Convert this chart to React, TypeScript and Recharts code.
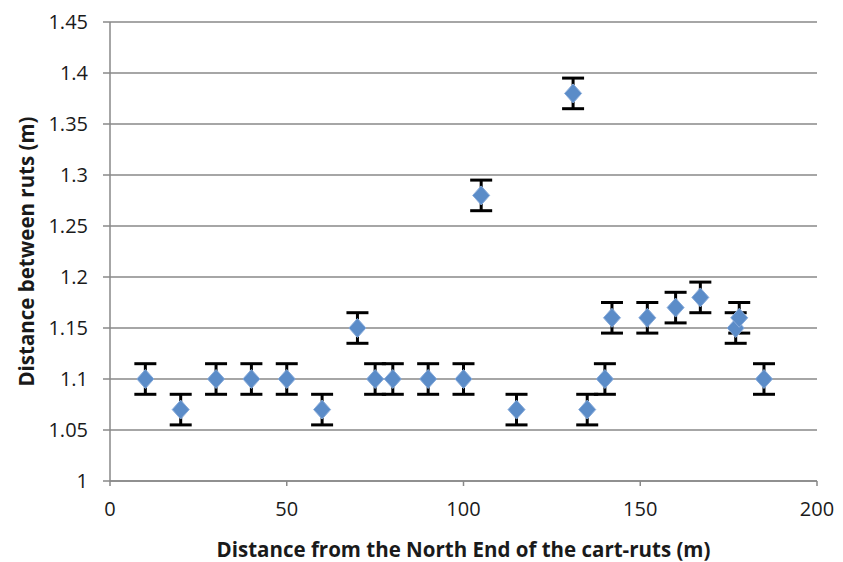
import React from "react";
import { ScatterChart, Scatter, XAxis, YAxis, CartesianGrid, ErrorBar } from "recharts";

const xs = [10, 20, 30, 40, 50, 60, 70, 75, 80, 90, 100, 105, 115, 131, 135, 140, 142, 152, 160, 167, 177, 178, 185];
const ys = [1.1, 1.07, 1.1, 1.1, 1.1, 1.07, 1.15, 1.1, 1.1, 1.1, 1.1, 1.28, 1.07, 1.38, 1.07, 1.1, 1.16, 1.16, 1.17, 1.18, 1.15, 1.16, 1.1];
const errs = [0.015, 0.015, 0.015, 0.015, 0.015, 0.015, 0.015, 0.015, 0.015, 0.015, 0.015, 0.015, 0.015, 0.015, 0.015, 0.015, 0.015, 0.015, 0.015, 0.015, 0.015, 0.015, 0.015];
const xTicks = [0, 50, 100, 150, 200];
const yTicks = [1, 1.05, 1.1, 1.15, 1.2, 1.25, 1.3, 1.35, 1.4, 1.45];

const data = xs.map((x, i) => ({ x, y: ys[i], err: errs[i] }));

const FONT = "'Open Sans', 'Liberation Sans', sans-serif";

const Diamond = (props: any) => {
  const { cx, cy } = props;
  if (cx == null || cy == null) return null;
  const w = 8.5, h = 9.5;
  return (
    <polygon
      points={`${cx},${cy - h} ${cx + w},${cy} ${cx},${cy + h} ${cx - w},${cy}`}
      fill="#5B8CC8"
      stroke="#86AADA"
      strokeWidth={1}
    />
  );
};

export default function App() {
  return (
    <div style={{ background: "#fff", width: 835, height: 554 }}>
      <ScatterChart width={835} height={554} margin={{ top: 14, right: 26, left: 0, bottom: 0 }}>
        <CartesianGrid vertical={false} stroke="#898989" strokeWidth={1.5} />
        <XAxis
          type="number"
          dataKey="x"
          domain={[0, 200]}
          ticks={xTicks}
          height={81}
          stroke="#898989"
          strokeWidth={1.5}
          tickSize={5}
          tickMargin={16}
          tick={{ fill: "#1a1a1a", fontSize: 20, fontFamily: FONT }}
          label={{ value: "Distance from the North End of the cart-ruts (m)", position: "insideBottom", offset: 5, fill: "#1a1a1a", fontSize: 20.5, fontWeight: "bold", fontFamily: FONT }}
        />
        <YAxis
          type="number"
          dataKey="y"
          domain={[1, 1.45]}
          ticks={yTicks}
          width={102}
          stroke="#898989"
          strokeWidth={1.5}
          tickSize={7}
          tickMargin={15}
          tick={{ fill: "#1a1a1a", fontSize: 20, fontFamily: FONT }}
          label={{ value: "Distance between ruts (m)", angle: -90, position: "insideLeft", offset: 19, style: { textAnchor: "middle" }, fill: "#1a1a1a", fontSize: 20.5, fontWeight: "bold", fontFamily: FONT }}
        />
        <Scatter data={data} shape={<Diamond />} isAnimationActive={false}>
          <ErrorBar dataKey="err" direction="y" width={11} stroke="#000" strokeWidth={3} />
        </Scatter>
      </ScatterChart>
    </div>
  );
}
